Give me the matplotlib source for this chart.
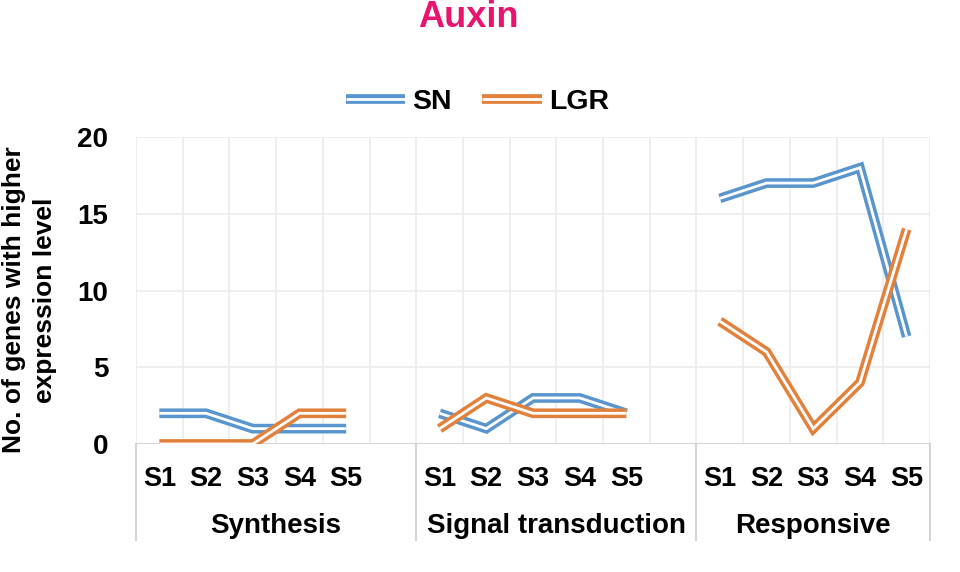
import numpy as np
import matplotlib.pyplot as plt
from matplotlib.legend_handler import HandlerTuple

plt.rcParams['font.family'] = ['Liberation Sans', 'DejaVu Sans']
plt.rcParams['font.weight'] = 'bold'

# data
groups = ['Synthesis', 'Signal transduction', 'Responsive']
stages = ['S1', 'S2', 'S3', 'S4', 'S5']
sn_synthesis = [2, 2, 1, 1, 1]
lgr_synthesis = [0, 0, 0, 2, 2]
sn_signal = [2, 1, 3, 3, 2]
lgr_signal = [1, 3, 2, 2, 2]
sn_responsive = [16, 17, 17, 18, 7]
lgr_responsive = [8, 6, 1, 4, 14]

blue = '#5A96CD'
orange = '#E2813C'
grid_c = '#EBEBEB'
axis_c = '#D3D3D3'

# each group takes 5 slots plus one empty one (except the last)
slots = [6, 6, 5]
starts = np.concatenate([[0], np.cumsum(slots)[:-1]])
n_slots = sum(slots)


def series(parts):
    y = np.full(n_slots, np.nan)
    for s, vals in zip(starts, parts):
        y[s:s + len(vals)] = vals
    return y


sn = series([sn_synthesis, sn_signal, sn_responsive])
lgr = series([lgr_synthesis, lgr_signal, lgr_responsive])
x = np.arange(n_slots)

fig = plt.figure(figsize=(9.6, 5.72), dpi=100)
ax = fig.add_axes([136 / 960, 1 - 444 / 572, 794 / 960, 307 / 572])
ax.set_xlim(-0.5, n_slots - 0.5)
ax.set_ylim(0, 20)

for yv in [5, 10, 15, 20]:
    ax.axhline(yv, color=grid_c, lw=1.2, zorder=0)
for xv in np.arange(-0.5, n_slots, 1):
    ax.axvline(xv, color=grid_c, lw=1.2, zorder=0)
ax.axhline(0, color=axis_c, lw=1.4, zorder=1)

# double (compound) lines: thick coloured stroke with a thin white core
handles = []
z = 3
for y, c in [(sn, blue), (lgr, orange)]:
    outer, = ax.plot(x, y, color=c, lw=7.0, solid_capstyle='butt',
                     solid_joinstyle='miter', zorder=z)
    inner, = ax.plot(x, y, color='white', lw=2.0, solid_capstyle='butt',
                     solid_joinstyle='miter', zorder=z + 1)
    handles.append((outer, inner))
    z += 2

for s in ax.spines.values():
    s.set_visible(False)
ax.set_xticks([])
ax.set_yticks([0, 5, 10, 15, 20])
ax.tick_params(axis='y', length=0, pad=20, labelsize=20)

# multi-level category axis
tr = ax.get_xaxis_transform()
low = -0.3127
for xv in [-0.5] + list(starts[1:] - 0.5) + [n_slots - 0.5]:
    ax.plot([xv, xv], [0, low], transform=tr, color=axis_c, lw=1.4,
            clip_on=False)
for s, name, w in zip(starts, groups, slots):
    for i, st in enumerate(stages):
        ax.text(s + i, -0.137, st, transform=tr, ha='center', va='baseline',
                fontsize=19.5)
    ax.text(s - 0.5 + w / 2, -0.29, name, transform=tr, ha='center',
            va='baseline', fontsize=20)

fig.text(0.4875, 0.953, 'Auxin', ha='center', va='baseline', fontsize=26,
         color='#E8146E')
fig.text(0.031, 0.4755, 'No. of genes with higher\nexpression level',
         rotation=90, ha='center', va='center', fontsize=19, linespacing=1.35,
         multialignment='center')

fig.legend(handles, ['SN', 'LGR'], handler_map={tuple: HandlerTuple(ndivide=1)},
           loc='center', bbox_to_anchor=(0.497, 0.822), ncol=2, frameon=False,
           fontsize=20.5, handlelength=2.1, handletextpad=0.25,
           columnspacing=1.05)

fig.savefig('out.png', dpi=100)
